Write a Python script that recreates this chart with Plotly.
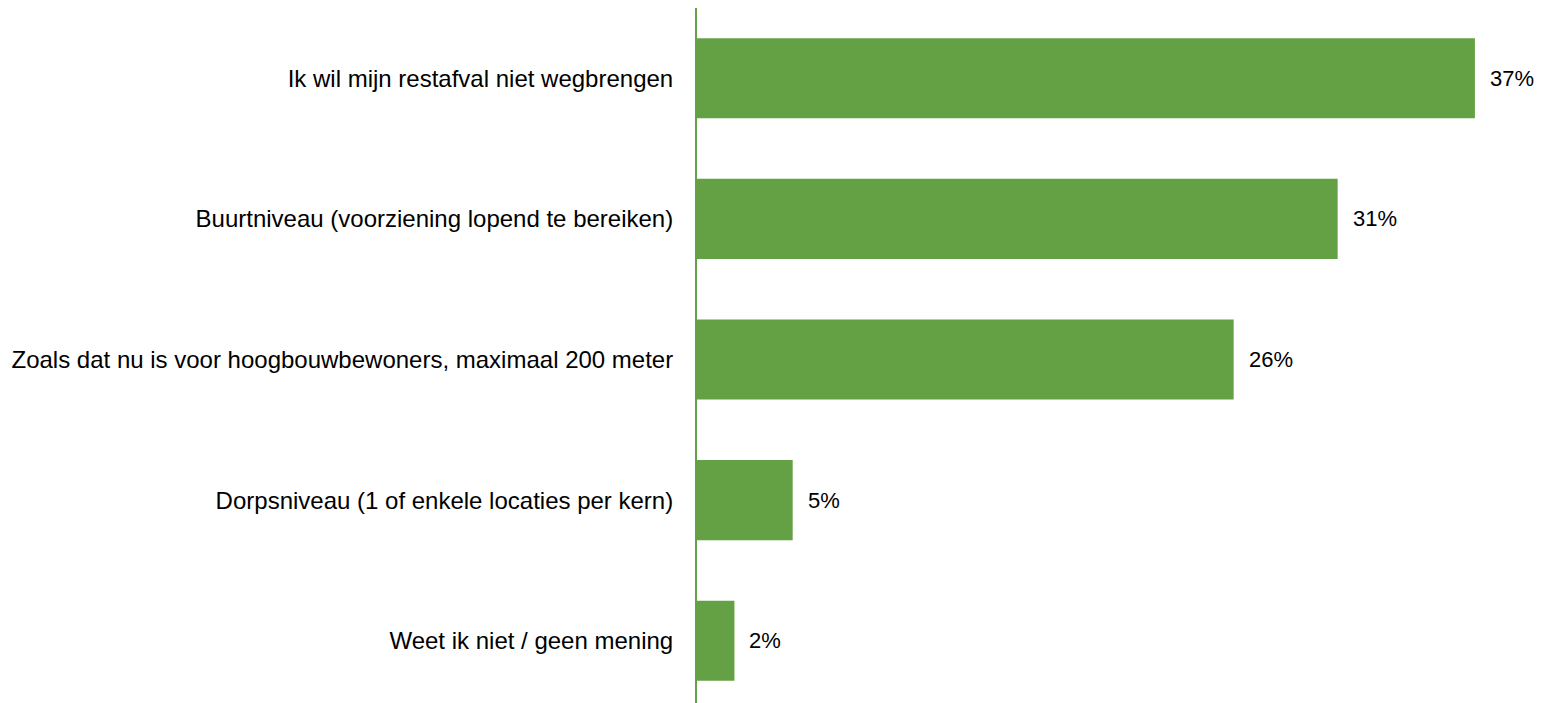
import plotly.graph_objects as go

# antwoordcategorieen en percentages
categories = [
    "Ik wil mijn restafval niet wegbrengen",
    "Buurtniveau (voorziening lopend te bereiken)",
    "Zoals dat nu is voor hoogbouwbewoners, maximaal 200 meter",
    "Dorpsniveau (1 of enkele locaties per kern)",
    "Weet ik niet / geen mening",
]
values = [37.4, 30.8, 25.8, 4.6, 1.8]
labels = ["37%", "31%", "26%", "5%", "2%"]

green = "#64A044"

fig = go.Figure()
fig.add_trace(go.Bar(
    x=values,
    y=categories,
    orientation="h",
    marker_color=green,
    marker_line_width=0,
    hoverinfo="skip",
))

# percentage labels naast de balken
for v, c, t in zip(values, categories, labels):
    fig.add_annotation(x=v, y=c, text=t, showarrow=False, xanchor="left",
                       xshift=13, font=dict(size=22, color="#000000"))

# de pagina heeft ~8px body-marge, daarom kleinere marges links/boven
fig.update_layout(
    width=1547, height=703,
    margin=dict(l=689, r=26, t=0, b=0),
    plot_bgcolor="white", paper_bgcolor="white",
    font=dict(family="Liberation Sans, Arial, sans-serif", size=24, color="#000000"),
    bargap=0.43,
    showlegend=False,
)
fig.update_xaxes(range=[0, 40], visible=False, showgrid=False, zeroline=False,
                 automargin=False)
fig.update_yaxes(
    autorange="reversed",
    showline=True, linecolor=green, linewidth=2,
    showgrid=False, zeroline=False, automargin=False,
    ticks="", ticklabelstandoff=17,
)

fig.write_html("out.html")
